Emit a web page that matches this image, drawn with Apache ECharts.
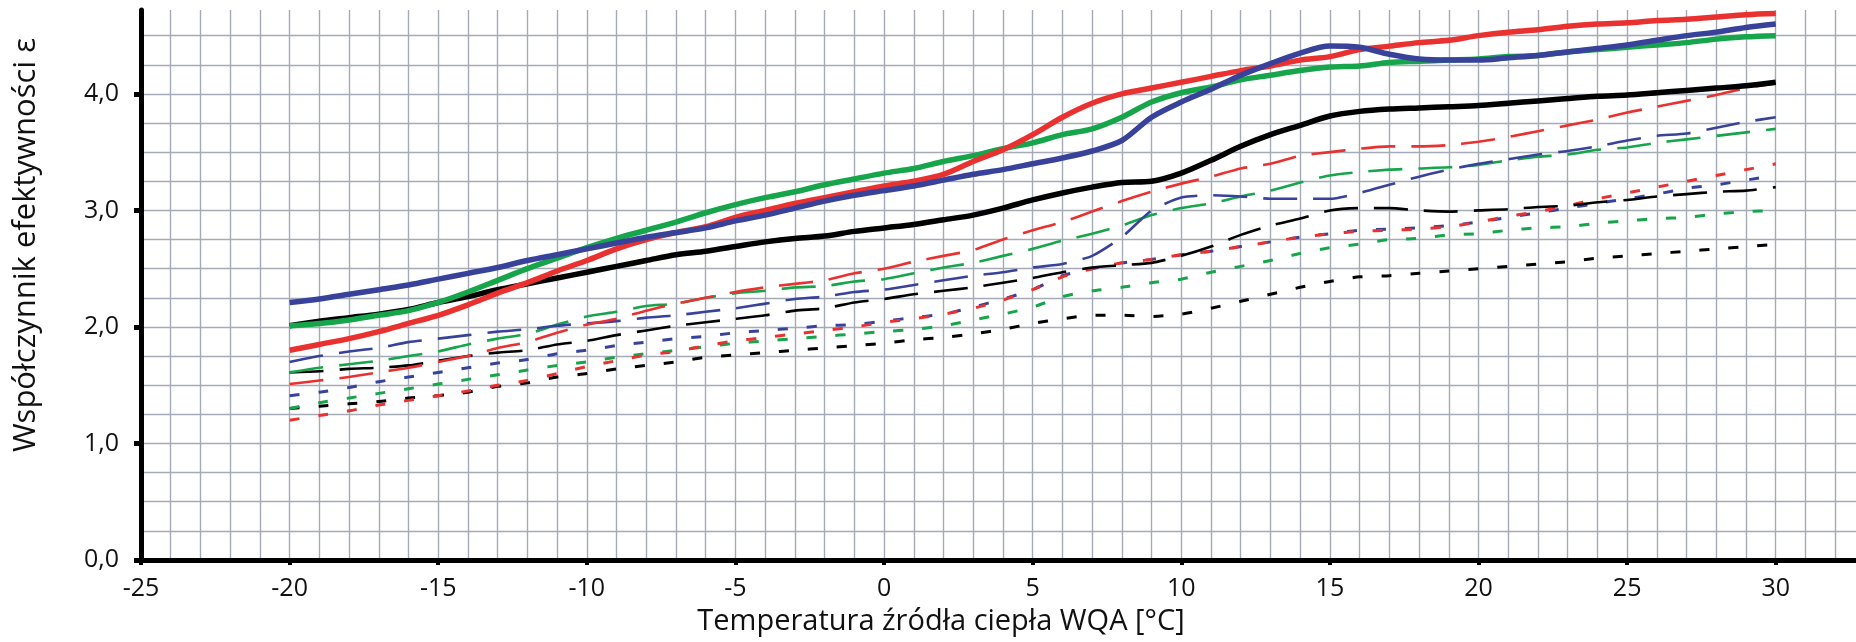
<!DOCTYPE html>
<html><head><meta charset="utf-8">
<script src="https://cdn.jsdelivr.net/npm/echarts@6/dist/echarts.min.js"></script>
<style>html,body{margin:0;padding:0;background:#fff}#c{width:1856px;height:642px}</style>
</head><body><div id="c"></div>
<script>
// Temperature of heat source (x), -20..30 step 1
const temps = [-20,-19,-18,-17,-16,-15,-14,-13,-12,-11,-10,-9,-8,-7,-6,-5,-4,-3,-2,-1,0,1,2,3,4,5,6,7,8,9,10,11,12,13,14,15,16,17,18,19,20,21,22,23,24,25,26,27,28,29,30];

// Solid (thick) lines
const redSolid   = [1.80,1.85,1.90,1.96,2.03,2.10,2.19,2.29,2.38,2.48,2.57,2.67,2.75,2.81,2.86,2.94,3.00,3.06,3.11,3.16,3.21,3.25,3.31,3.42,3.52,3.65,3.80,3.92,4.00,4.05,4.10,4.15,4.20,4.24,4.29,4.32,4.38,4.41,4.44,4.46,4.50,4.53,4.55,4.58,4.60,4.61,4.63,4.64,4.66,4.68,4.69];
const greenSolid = [2.01,2.03,2.06,2.10,2.14,2.21,2.30,2.40,2.50,2.59,2.68,2.76,2.83,2.90,2.98,3.05,3.11,3.16,3.22,3.27,3.32,3.36,3.42,3.47,3.53,3.58,3.65,3.70,3.80,3.93,4.01,4.06,4.12,4.16,4.20,4.23,4.24,4.27,4.28,4.29,4.30,4.32,4.33,4.36,4.38,4.40,4.42,4.44,4.47,4.49,4.50];
const blueSolid  = [2.21,2.24,2.28,2.32,2.36,2.41,2.46,2.51,2.57,2.62,2.67,2.72,2.77,2.81,2.85,2.91,2.96,3.02,3.08,3.13,3.17,3.21,3.26,3.31,3.35,3.40,3.45,3.51,3.60,3.80,3.93,4.04,4.16,4.26,4.35,4.41,4.40,4.34,4.30,4.29,4.29,4.31,4.33,4.36,4.39,4.42,4.46,4.50,4.53,4.57,4.60];
const blackSolid = [2.01,2.05,2.08,2.11,2.15,2.21,2.26,2.32,2.37,2.42,2.47,2.52,2.57,2.62,2.65,2.69,2.73,2.76,2.78,2.82,2.85,2.88,2.92,2.96,3.02,3.09,3.15,3.20,3.24,3.25,3.32,3.43,3.55,3.65,3.73,3.81,3.85,3.87,3.88,3.89,3.90,3.92,3.94,3.96,3.98,3.99,4.01,4.03,4.05,4.07,4.10];

// Long-dashed lines
const redLong   = [1.51,1.54,1.57,1.61,1.65,1.70,1.75,1.82,1.87,1.95,2.02,2.07,2.14,2.20,2.25,2.30,2.34,2.37,2.40,2.46,2.50,2.56,2.61,2.66,2.75,2.83,2.90,2.99,3.08,3.16,3.23,3.29,3.36,3.40,3.47,3.50,3.53,3.55,3.55,3.56,3.59,3.63,3.68,3.73,3.78,3.84,3.89,3.94,3.99,4.05,4.09];
const greenLong = [1.61,1.65,1.68,1.71,1.75,1.79,1.85,1.90,1.94,2.02,2.09,2.13,2.18,2.20,2.25,2.29,2.31,2.34,2.35,2.39,2.41,2.46,2.51,2.55,2.61,2.67,2.74,2.80,2.87,2.96,3.02,3.06,3.12,3.17,3.24,3.30,3.33,3.35,3.36,3.37,3.39,3.43,3.46,3.48,3.52,3.54,3.58,3.61,3.64,3.67,3.70];
const blueLong  = [1.70,1.75,1.79,1.82,1.87,1.90,1.93,1.96,1.98,2.01,2.03,2.05,2.08,2.10,2.13,2.16,2.20,2.24,2.26,2.30,2.32,2.36,2.40,2.44,2.47,2.51,2.54,2.61,2.77,3.00,3.11,3.13,3.12,3.10,3.10,3.10,3.15,3.22,3.29,3.35,3.40,3.44,3.48,3.51,3.55,3.60,3.64,3.66,3.71,3.76,3.80];
const blackLong = [1.61,1.62,1.64,1.65,1.67,1.71,1.75,1.78,1.80,1.85,1.88,1.93,1.97,2.01,2.04,2.07,2.10,2.14,2.16,2.21,2.24,2.28,2.31,2.34,2.38,2.42,2.47,2.51,2.53,2.55,2.61,2.69,2.79,2.87,2.93,3.00,3.02,3.02,3.00,2.99,3.00,3.01,3.03,3.04,3.07,3.09,3.12,3.14,3.16,3.17,3.20];

// Short-dashed lines
const redShort   = [1.20,1.24,1.28,1.33,1.37,1.41,1.45,1.50,1.54,1.60,1.66,1.71,1.76,1.79,1.84,1.88,1.91,1.94,1.97,2.00,2.04,2.07,2.11,2.16,2.23,2.32,2.43,2.50,2.55,2.58,2.62,2.65,2.69,2.73,2.77,2.80,2.82,2.83,2.84,2.86,2.90,2.95,2.99,3.04,3.10,3.15,3.20,3.25,3.30,3.35,3.40];
const greenShort = [1.30,1.35,1.39,1.43,1.47,1.51,1.55,1.59,1.63,1.67,1.70,1.74,1.77,1.80,1.83,1.86,1.88,1.90,1.92,1.94,1.96,1.98,2.01,2.06,2.11,2.17,2.26,2.31,2.34,2.38,2.41,2.47,2.52,2.57,2.63,2.68,2.71,2.75,2.76,2.79,2.80,2.83,2.85,2.86,2.89,2.91,2.93,2.94,2.97,2.99,3.00];
const blueShort  = [1.41,1.44,1.48,1.53,1.57,1.61,1.65,1.69,1.72,1.77,1.80,1.84,1.87,1.90,1.92,1.95,1.97,1.99,2.01,2.02,2.05,2.08,2.11,2.17,2.24,2.32,2.44,2.50,2.55,2.58,2.62,2.65,2.69,2.73,2.77,2.80,2.83,2.84,2.85,2.87,2.90,2.94,2.98,3.02,3.06,3.10,3.14,3.19,3.22,3.26,3.30];
const blackShort = [1.30,1.32,1.34,1.36,1.39,1.41,1.44,1.49,1.52,1.57,1.60,1.64,1.67,1.70,1.74,1.76,1.78,1.80,1.82,1.84,1.86,1.89,1.91,1.94,1.98,2.03,2.07,2.10,2.10,2.09,2.11,2.16,2.22,2.28,2.34,2.39,2.43,2.44,2.46,2.48,2.50,2.52,2.54,2.56,2.59,2.61,2.63,2.65,2.67,2.69,2.71];

const xTickValues = [-25,-20,-15,-10,-5,0,5,10,15,20,25,30];
const yTickValues = [0,1,2,3,4];
const xTitle = 'Temperatura źródła ciepła WQA [°C]';
const yTitle = 'Współczynnik efektywności ε';

const RED = '#e9312f', GREEN = '#16a54a', BLUE = '#38429b', BLACK = '#000000';
const FONT = '"Open Sans", "Noto Sans", sans-serif';
const X_MIN = -25, X_MAX = 32.7, Y_MIN = 0, Y_MAX = 4.72;

function pts(arr) { return temps.map((t, i) => [t, arr[i]]); }
function mk(name, arr, color, kind) {
  let ls;
  if (kind === 'solid') ls = { width: 5.5, type: 'solid' };
  else if (kind === 'long') ls = { width: 2.6, type: [34, 16] };
  else ls = { width: 3, type: [10, 19] };
  return {
    name, type: 'line', data: pts(arr), showSymbol: false, symbol: 'none',
    xAxisIndex: 0, yAxisIndex: 0,
    smooth: kind === 'solid' ? 0.3 : 0.2, silent: true, animation: false,
    lineStyle: Object.assign({ color, cap: 'butt', join: 'round' }, ls),
    z: kind === 'solid' ? 5 : 3
  };
}

const series = [
  mk('black short', blackShort, BLACK, 'short'),
  mk('green short', greenShort, GREEN, 'short'),
  mk('blue short', blueShort, BLUE, 'short'),
  mk('red short', redShort, RED, 'short'),
  mk('black long', blackLong, BLACK, 'long'),
  mk('green long', greenLong, GREEN, 'long'),
  mk('blue long', blueLong, BLUE, 'long'),
  mk('red long', redLong, RED, 'long'),
  mk('black solid', blackSolid, BLACK, 'solid'),
  mk('green solid', greenSolid, GREEN, 'solid'),
  mk('red solid', redSolid, RED, 'solid'),
  mk('blue solid', blueSolid, BLUE, 'solid')
];

const gridLine = { show: true, showMaxLine: false, showMinLine: false, lineStyle: { color: '#a5abb6', width: 1.4 } };
const hidden = { show: false };

const chart = echarts.init(document.getElementById('c'), null, { renderer: 'canvas' });
chart.setOption({
  animation: false,
  backgroundColor: '#ffffff',
  grid: { left: 141, right: 0, top: 10, bottom: 82, containLabel: false },
  xAxis: [
    { // grid axis: lines every 1 °C
      type: 'value', min: X_MIN, max: X_MAX, interval: 1, position: 'bottom', z: 1,
      axisLine: hidden, axisTick: hidden, axisLabel: hidden, splitLine: gridLine
    },
    { // visible axis: ticks & labels every 5 °C
      type: 'value', min: X_MIN, max: X_MAX, interval: 5, position: 'bottom', offset: 0, z: 10,
      axisLine: { show: true, onZero: false, lineStyle: { color: '#000', width: 5 } },
      axisTick: { show: true, customValues: xTickValues, length: 5, lineStyle: { color: '#000', width: 4 } },
      axisLabel: { show: true, customValues: xTickValues, margin: 16, color: '#111', fontSize: 25, fontFamily: FONT,
        formatter: v => String(v) },
      splitLine: hidden
    }
  ],
  yAxis: [
    {
      type: 'value', min: Y_MIN, max: Y_MAX, interval: 0.25, position: 'left', z: 1,
      axisLine: hidden, axisTick: hidden, axisLabel: hidden, splitLine: gridLine
    },
    {
      type: 'value', min: Y_MIN, max: Y_MAX, interval: 1, position: 'left', offset: 0, z: 10,
      axisLine: { show: true, onZero: false, lineStyle: { color: '#000', width: 5 } },
      axisTick: { show: true, customValues: yTickValues, length: 7, lineStyle: { color: '#000', width: 5 } },
      axisLabel: { show: true, customValues: yTickValues, margin: 22, color: '#111', fontSize: 25, fontFamily: FONT,
        formatter: v => v.toFixed(1).replace('.', ',') },
      splitLine: hidden
    }
  ],
  graphic: [
    { type: 'text', x: 941, y: 622, silent: true,
      style: { text: xTitle, fill: '#111', fontSize: 29, fontFamily: FONT, align: 'center', verticalAlign: 'middle' } },
    { type: 'text', x: 26, y: 245, rotation: Math.PI / 2, silent: true,
      style: { text: yTitle, fill: '#111', fontSize: 31, fontFamily: FONT, align: 'center', verticalAlign: 'middle' } }
  ],
  series
});
</script>
</body></html>
